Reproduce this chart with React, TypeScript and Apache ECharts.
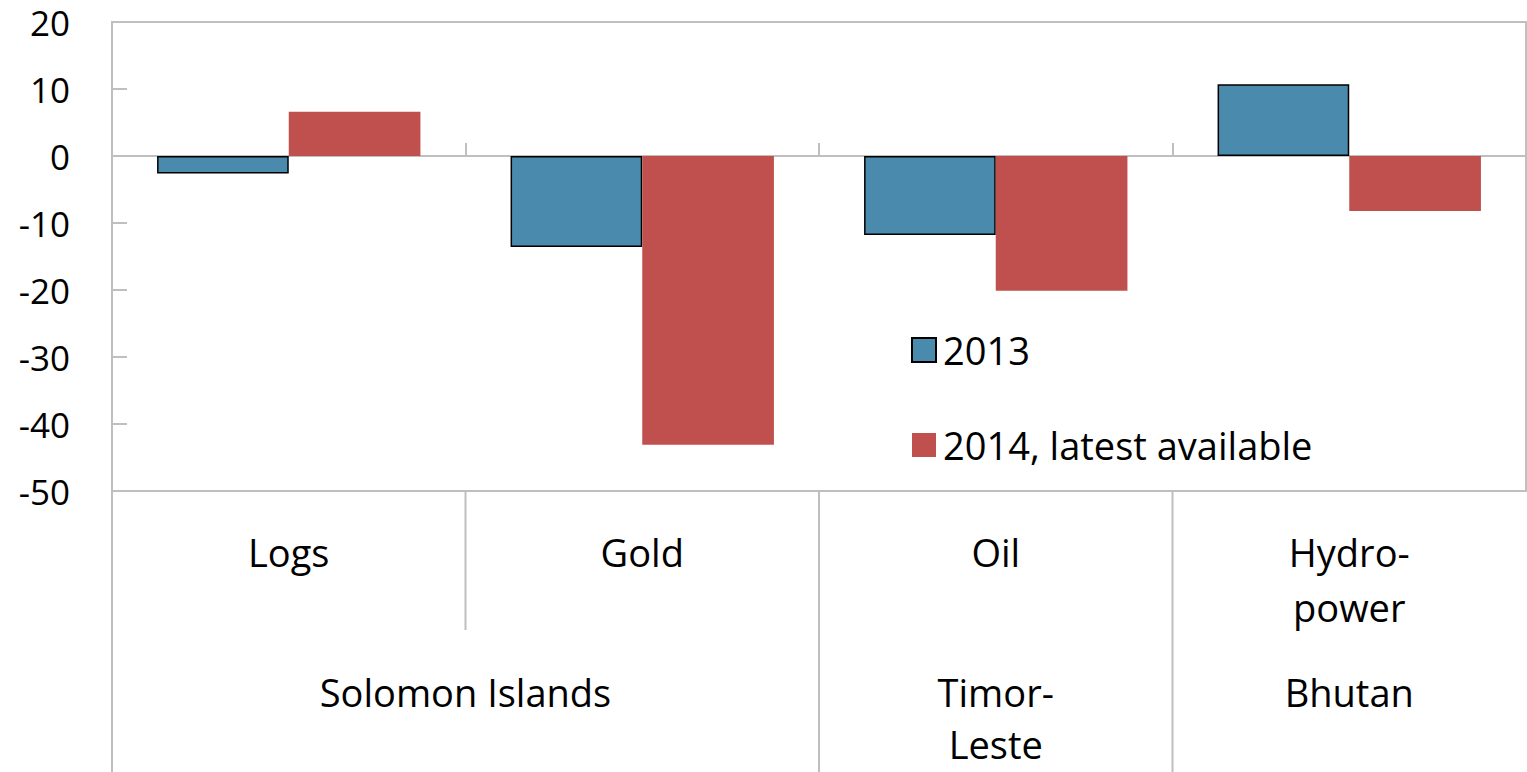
import React, { useEffect, useRef } from "react";
import * as echarts from "echarts";

const categories = ["Logs", "Gold", "Oil", "Hydro-\npower"];
const groupNames = ["Solomon Islands", "Timor-\nLeste", "Bhutan"];
const groupSpans = [2, 1, 1];
const series2013 = [-2.6, -13.6, -11.8, 10.7];
const series2014 = [6.6, -43.1, -20.1, -8.2];
const seriesNames = ["2013", "2014, latest available"];

const FONT = "Open Sans";
const GRID_LEFT = 112;
const GRID_TOP = 22;
const GRID_RIGHT = 1;
const GRID_BOTTOM = 281;
const BOTTOM_Y = 772;
const LINE = "#BFBFBF";

export default function App() {
  const ref = useRef<HTMLDivElement>(null);
  useEffect(() => {
    if (!ref.current) return;
    const chart = echarts.init(ref.current, null, { renderer: "svg" });
    const option: any = {
      animation: false,
      textStyle: { fontFamily: FONT },
      grid: {
        left: GRID_LEFT,
        top: GRID_TOP,
        right: GRID_RIGHT,
        bottom: GRID_BOTTOM,
        show: true,
        borderColor: LINE,
        borderWidth: 2,
        containLabel: false,
      },
      legend: {
        orient: "vertical",
        left: 906,
        top: 326,
        itemWidth: 24,
        itemHeight: 24,
        itemGap: 57,
        icon: "rect",
        textStyle: { fontSize: 38, color: "#000", fontFamily: FONT, padding: [0, 0, 0, 2] },
        data: seriesNames,
      },
      xAxis: [
        {
          type: "category",
          data: categories,
          axisLine: { onZero: true, lineStyle: { color: LINE, width: 2 } },
          axisTick: { show: true, inside: true, length: 13, lineStyle: { color: LINE, width: 2 } },
          axisLabel: { show: false },
          splitLine: { show: false },
        },
        {
          type: "category",
          data: categories,
          position: "bottom",
          axisLine: { show: false, onZero: false },
          axisTick: { show: false },
          axisLabel: {
            show: true,
            interval: 0,
            margin: 33,
            fontSize: 38,
            lineHeight: 55,
            color: "#000",
            fontFamily: FONT,
          },
          splitLine: { show: false },
        },
      ],
      yAxis: {
        type: "value",
        min: -50,
        max: 20,
        interval: 10,
        axisLine: { show: true, lineStyle: { color: LINE, width: 2 } },
        axisTick: { show: true, inside: true, length: 15, lineStyle: { color: LINE, width: 2 } },
        axisLabel: { fontSize: 35, lineHeight: 36, color: "#000", margin: 42, fontFamily: FONT },
        splitLine: { show: false },
      },
      series: [
        {
          name: seriesNames[0],
          type: "bar",
          xAxisIndex: 0,
          data: series2013,
          barGap: "0%",
          barCategoryGap: "25.5%",
          itemStyle: { color: "#4A8BAD", borderColor: "#000", borderWidth: 1.5 },
        },
        {
          name: seriesNames[1],
          type: "bar",
          xAxisIndex: 0,
          data: series2014,
          barGap: "0%",
          barCategoryGap: "25.5%",
          itemStyle: { color: "#C0504D" },
        },
      ],
    };
    chart.setOption(option);

    // Build two-level category decorations from axis coordinates
    const centers = categories.map((c) => chart.convertToPixel({ xAxisIndex: 0 }, c) as number);
    const step = centers.length > 1 ? centers[1] - centers[0] : 0;
    const boundaryX = (i: number) => centers[0] - step / 2 + i * step;
    const gridBottomY = chart.getHeight() - GRID_BOTTOM;
    const graphics: any[] = [];
    graphics.push({
      type: "line",
      shape: { x1: boundaryX(0), y1: gridBottomY, x2: boundaryX(0), y2: BOTTOM_Y },
      style: { stroke: LINE, lineWidth: 2 },
    });
    let idx = 0;
    groupNames.forEach((g, gi) => {
      const start = idx;
      const end = idx + groupSpans[gi];
      for (let k = start + 1; k < end; k++) {
        graphics.push({
          type: "line",
          shape: { x1: boundaryX(k), y1: gridBottomY, x2: boundaryX(k), y2: 630 },
          style: { stroke: LINE, lineWidth: 2 },
        });
      }
      if (gi < groupNames.length - 1) {
        graphics.push({
          type: "line",
          shape: { x1: boundaryX(end), y1: gridBottomY, x2: boundaryX(end), y2: BOTTOM_Y },
          style: { stroke: LINE, lineWidth: 2 },
        });
      }
      graphics.push({
        type: "text",
        x: (boundaryX(start) + boundaryX(end)) / 2,
        y: 666,
        style: {
          text: g,
          fontSize: 38,
          lineHeight: 52,
          fontFamily: FONT,
          fill: "#000",
          align: "center",
          verticalAlign: "top",
        },
      });
      idx = end;
    });
    chart.setOption({ graphic: graphics });

    return () => chart.dispose();
  }, []);
  return <div ref={ref} style={{ width: 1527, height: 772, position: "absolute", left: 0, top: 0 }} />;
}
